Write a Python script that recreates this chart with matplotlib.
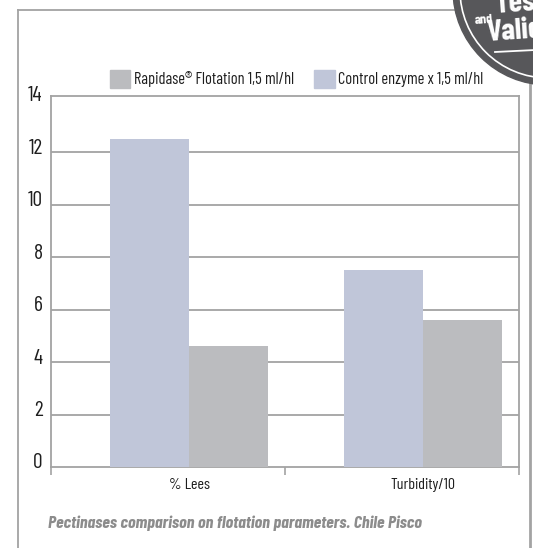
import matplotlib
matplotlib.use("Agg")
import matplotlib.pyplot as plt
import numpy as np
from matplotlib.patches import Patch, Ellipse
from matplotlib.lines import Line2D

categories = ["% Lees", "Turbidity/10"]
control = [12.5, 7.5]
rapidase = [4.6, 5.6]
series_names = ["Rapidase\u00ae Flotation 1,5 ml/hl", "Control enzyme x 1,5 ml/hl"]
yticks = [0, 2, 4, 6, 8, 10, 12, 14]
caption = "Pectinases comparison on flotation parameters. Chile Pisco"

col_control = "#c0c6d9"
col_rapid = "#bbbcbf"
col_line = "#a3a3a3"
plt.rcParams["font.family"] = ["Barlow Condensed", "DejaVu Sans"]

W, H = 533, 548
fig = plt.figure(figsize=(W / 100, H / 100), dpi=100)


def fx(x):
    return x / W


def fy(y):
    return 1 - y / H


ax = fig.add_axes([fx(51), fy(467), fx(519) - fx(51), fy(96) - fy(467)])

# groups sit a bit right of the category centres in the original
pos = np.arange(len(categories)) + 0.59
bw = 0.337
ax.bar(pos - bw / 2, control, bw, color=col_control, zorder=3)
ax.bar(pos + bw / 2, rapidase, bw, color=col_rapid, zorder=3)

ax.set_xlim(0, 2)
ax.set_ylim(0, 14.15)
ax.set_yticks(yticks)
ax.set_yticklabels([str(v) for v in yticks], fontsize=15.5, color="#1e1e1e")
ax.tick_params(axis="y", length=0, pad=6)
for lab in ax.get_yticklabels():
    lab.set_transform(lab.get_transform() + matplotlib.transforms.ScaledTranslation(0, 6 / 100, fig.dpi_scale_trans))
# gridlines below the top frame only
for v in yticks[1:-1]:
    ax.axhline(v, color=col_line, linewidth=1.3, zorder=0)

ax.set_xticks([0, 1, 2])
ax.set_xticklabels(["", "", ""])
ax.tick_params(axis="x", which="major", length=6, width=1.2, color=col_line, direction="out")
ax.set_xticks(pos, minor=True)
ax.set_xticklabels(categories, minor=True, fontsize=11.5, color="#1e1e1e")
ax.tick_params(axis="x", which="minor", length=0, pad=8)

for s in ax.spines.values():
    s.set_color(col_line)
    s.set_linewidth(1.3)

handles = [Patch(color=col_rapid), Patch(color=col_control)]
leg = fig.legend(handles, series_names, loc="center left", bbox_to_anchor=(fx(110), fy(79)),
                 ncol=2, frameon=False, fontsize=11.8, handlelength=1.25, handleheight=1.35,
                 handletextpad=0.2, columnspacing=1.25, borderpad=0, borderaxespad=0)
for t in leg.get_texts():
    t.set_color("#1e1e1e")

fig.text(fx(48), fy(523), caption, fontsize=12.8, fontweight="bold", fontstyle="italic",
         color="#8c8c8c", ha="left", va="center")

# outer frame
fig.add_artist(Line2D([fx(17.5), fx(17.5)], [fy(10), fy(548)], color=col_line, linewidth=1.3))
fig.add_artist(Line2D([fx(17.5), fx(470)], [fy(10), fy(10)], color=col_line, linewidth=1.3))
fig.add_artist(Line2D([fx(530), fx(530)], [fy(80), fy(548)], color=col_line, linewidth=2))

# stamp in the top right corner (cut by the image edge, as in the original)
r = 95
stamp = Ellipse((fx(548), fy(-10)), 2 * r / W, 2 * r / H, color="#57575a", zorder=5)
fig.add_artist(stamp)
ring = Ellipse((fx(548), fy(-10)), 2 * (r - 7) / W, 2 * (r - 7) / H, fill=False,
               edgecolor="white", linewidth=1.2, zorder=6)
fig.add_artist(ring)
fig.add_artist(Line2D([fx(495), fx(535)], [fy(52), fy(50)], color="white", linewidth=1.3, zorder=6))
for txt, x, y, size in [("Test", 494, 4, 22), ("and", 474, 20, 10), ("Valid", 486, 32, 22)]:
    fig.text(fx(x), fy(y), txt, fontsize=size, fontweight="bold", color="white",
             ha="left", va="center", rotation=4, zorder=7)

fig.savefig("out.png", dpi=100)
